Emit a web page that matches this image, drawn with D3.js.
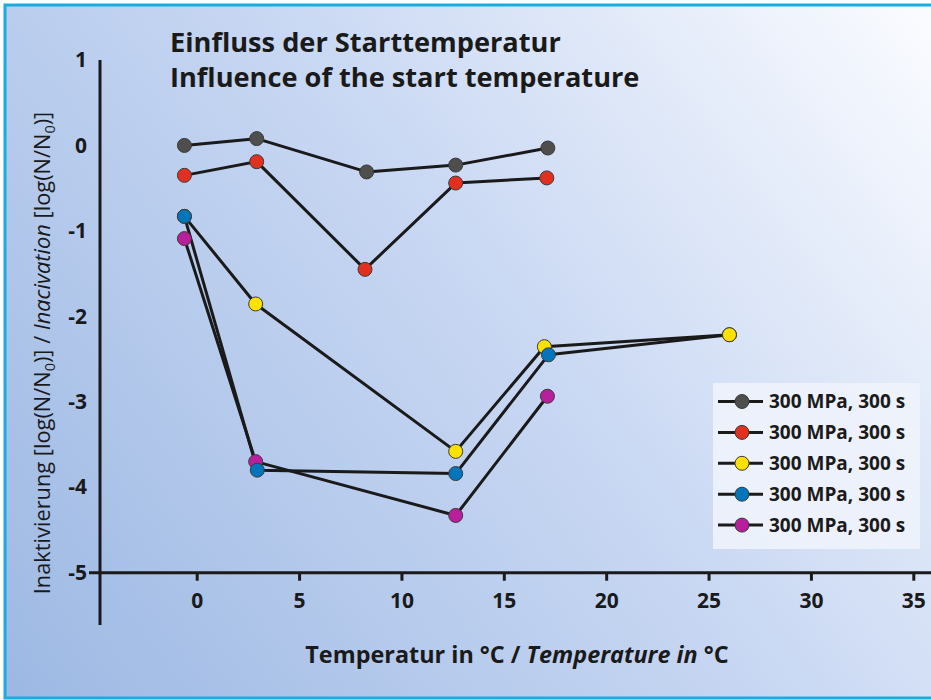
<!DOCTYPE html>
<html>
<head>
<meta charset="utf-8">
<script src="https://cdn.jsdelivr.net/npm/d3@7"></script>
<style>
  html, body { margin: 0; padding: 0; background: #ffffff; }
  svg { display: block; }
  text { font-family: "Open Sans", "Noto Sans", sans-serif; fill: #1a1a1a; }
</style>
</head>
<body>
<svg id="chart" width="931" height="700"></svg>
<script>
// ---------- data ----------
const seriesNames = ["gray", "red", "magenta", "yellow", "blue"];
const legendLabels = ["300 MPa, 300 s", "300 MPa, 300 s", "300 MPa, 300 s", "300 MPa, 300 s", "300 MPa, 300 s"];
const legendOrder = ["gray", "red", "yellow", "blue", "magenta"];
const seriesColors = { gray: "#4e4e4c", red: "#e1301f", yellow: "#ffe100", blue: "#0474bb", magenta: "#b91e9c" };

const grayT = [-0.6, 2.93, 8.3, 12.65, 17.15];
const grayV = [0.0, 0.08, -0.31, -0.23, -0.03];
const redT = [-0.6, 2.93, 8.22, 12.65, 17.1];
const redV = [-0.35, -0.19, -1.45, -0.44, -0.38];
const yellowT = [-0.6, 2.88, 12.65, 16.98, 26.02];
const yellowV = [-0.83, -1.855, -3.58, -2.355, -2.215];
const blueT = [-0.6, 2.96, 12.65, 17.18, 26.02];
const blueV = [-0.83, -3.80, -3.84, -2.45, -2.215];
const magentaT = [-0.6, 2.88, 12.65, 17.13];
const magentaV = [-1.09, -3.70, -4.33, -2.935];

const xTicks = [0, 5, 10, 15, 20, 25, 30, 35];
const yTicks = [1, 0, -1, -2, -3, -4, -5];

const titleLines = ["Einfluss der Starttemperatur", "Influence of the start temperature"];

// ---------- build ----------
const seriesData = {
  gray: grayT.map((t, i) => ({ t, v: grayV[i] })),
  red: redT.map((t, i) => ({ t, v: redV[i] })),
  yellow: yellowT.map((t, i) => ({ t, v: yellowV[i] })),
  blue: blueT.map((t, i) => ({ t, v: blueV[i] })),
  magenta: magentaT.map((t, i) => ({ t, v: magentaV[i] }))
};

const W = 931, H = 700;
const svg = d3.select("#chart");

// background gradient
const defs = svg.append("defs");
const grad = defs.append("linearGradient").attr("id", "bg")
  .attr("gradientUnits", "userSpaceOnUse")
  .attr("x1", 0).attr("y1", H).attr("x2", W).attr("y2", 0);
grad.append("stop").attr("offset", 0).attr("stop-color", "#9cb8e3");
grad.append("stop").attr("offset", 0.55).attr("stop-color", "#c9d8f3");
grad.append("stop").attr("offset", 1).attr("stop-color", "#fbfcff");

svg.append("rect").attr("x", 5).attr("y", 5).attr("width", W - 5).attr("height", H - 8)
  .attr("fill", "url(#bg)");
// frame
svg.append("path")
  .attr("d", `M${W},5 H5 V698 H${W}`)
  .attr("fill", "none").attr("stroke", "#17ade0").attr("stroke-width", 3);

const x = d3.scaleLinear().domain([0, 35]).range([196.7, 913.3]);
const y = d3.scaleLinear().domain([-5, 1]).range([572.7, 60]);

const axisColor = "#1a1a1a";
const yAxisX = 100;

// x axis
const xAxis = svg.append("g").attr("transform", `translate(0,${y(-5)})`)
  .call(d3.axisBottom(x).tickValues(xTicks).tickSize(8).tickPadding(12).tickFormat(d3.format("d")));
xAxis.select(".domain").remove();
xAxis.append("line").attr("x1", yAxisX - 11).attr("x2", W).attr("y1", 0).attr("y2", 0)
  .attr("stroke", axisColor).attr("stroke-width", 3);
xAxis.selectAll(".tick line").attr("stroke", axisColor).attr("stroke-width", 3);
xAxis.selectAll(".tick text").attr("fill", axisColor)
  .style("font-family", "'Open Sans', sans-serif").style("font-size", "21px").style("font-weight", "700");

// y axis
const yAxis = svg.append("g").attr("transform", `translate(${yAxisX},0)`)
  .call(d3.axisLeft(y).tickValues(yTicks).tickSize(0).tickPadding(13).tickFormat(d3.format("d")));
yAxis.select(".domain").remove();
yAxis.append("line").attr("x1", 0).attr("x2", 0).attr("y1", y(1)).attr("y2", 625)
  .attr("stroke", axisColor).attr("stroke-width", 3);
yAxis.selectAll(".tick text").attr("fill", axisColor)
  .style("font-family", "'Open Sans', sans-serif").style("font-size", "21px").style("font-weight", "700")
  .text(d => d < 0 ? "-" + Math.abs(d) : d);

// title
svg.append("g").selectAll("text").data(titleLines).join("text")
  .attr("x", 170).attr("y", (d, i) => 52 + i * 35)
  .style("font-size", "27.2px").style("font-weight", "700").attr("fill", "#1a1a1a")
  .text(d => d);

// y axis title
const yt = svg.append("text")
  .attr("transform", `translate(50,353) rotate(-90)`)
  .attr("text-anchor", "middle")
  .style("font-size", "21.8px").style("font-weight", "400");
function addLog(el) {
  el.append("tspan").text("[log(N/N");
  el.append("tspan").attr("dy", 5).style("font-size", "14.5px").text("0");
  el.append("tspan").attr("dy", -5).text(")]");
}
yt.append("tspan").text("Inaktivierung ");
addLog(yt);
yt.append("tspan").text(" / ");
yt.append("tspan").style("font-style", "italic").text("Inacivation");
yt.append("tspan").text(" ");
addLog(yt);

// x axis title
const xt = svg.append("text")
  .attr("x", 517).attr("y", 663).attr("text-anchor", "middle")
  .style("font-size", "23.4px").style("font-weight", "700");
xt.append("tspan").text("Temperatur in °C / ");
xt.append("tspan").style("font-style", "italic").text("Temperature in");
xt.append("tspan").text(" °C");

// lines
const line = d3.line().x(d => x(d.t)).y(d => y(d.v));
const plot = svg.append("g");
plot.selectAll("path.series").data(seriesNames).join("path")
  .attr("class", "series")
  .attr("d", s => line(seriesData[s]))
  .attr("fill", "none").attr("stroke", "#1a1a1a").attr("stroke-width", 3)
  .attr("stroke-linejoin", "round");

// markers
const markerData = seriesNames.flatMap(s => seriesData[s].map((d, i) => ({ ...d, s, i, n: seriesData[s].length })));
const markers = plot.selectAll("circle").data(markerData).join("circle")
  .attr("cx", d => x(d.t)).attr("cy", d => y(d.v)).attr("r", 7)
  .attr("fill", d => seriesColors[d.s])
  .attr("stroke", "#3a3a3a").attr("stroke-width", 1);
markers.filter(d => d.s === "yellow" && d.i === d.n - 1).raise();

// legend
const lg = svg.append("g");
lg.append("rect").attr("x", 713).attr("y", 383).attr("width", 207).attr("height", 166)
  .attr("fill", "#eef2fb").attr("fill-opacity", 0.92);
const rows = lg.selectAll("g.row").data(legendOrder).join("g")
  .attr("class", "row")
  .attr("transform", (d, i) => `translate(0,${401.5 + i * 30.9})`);
rows.append("line").attr("x1", 718).attr("x2", 763).attr("y1", 0).attr("y2", 0)
  .attr("stroke", "#1a1a1a").attr("stroke-width", 3);
rows.append("circle").attr("cx", 742).attr("cy", 0).attr("r", 7)
  .attr("fill", d => seriesColors[d]).attr("stroke", "#3a3a3a").attr("stroke-width", 1);
rows.append("text").attr("x", 769).attr("y", 0).attr("dy", "0.35em")
  .style("font-size", "19px").style("font-weight", "700")
  .text((d, i) => legendLabels[i]);
</script>
</body>
</html>
